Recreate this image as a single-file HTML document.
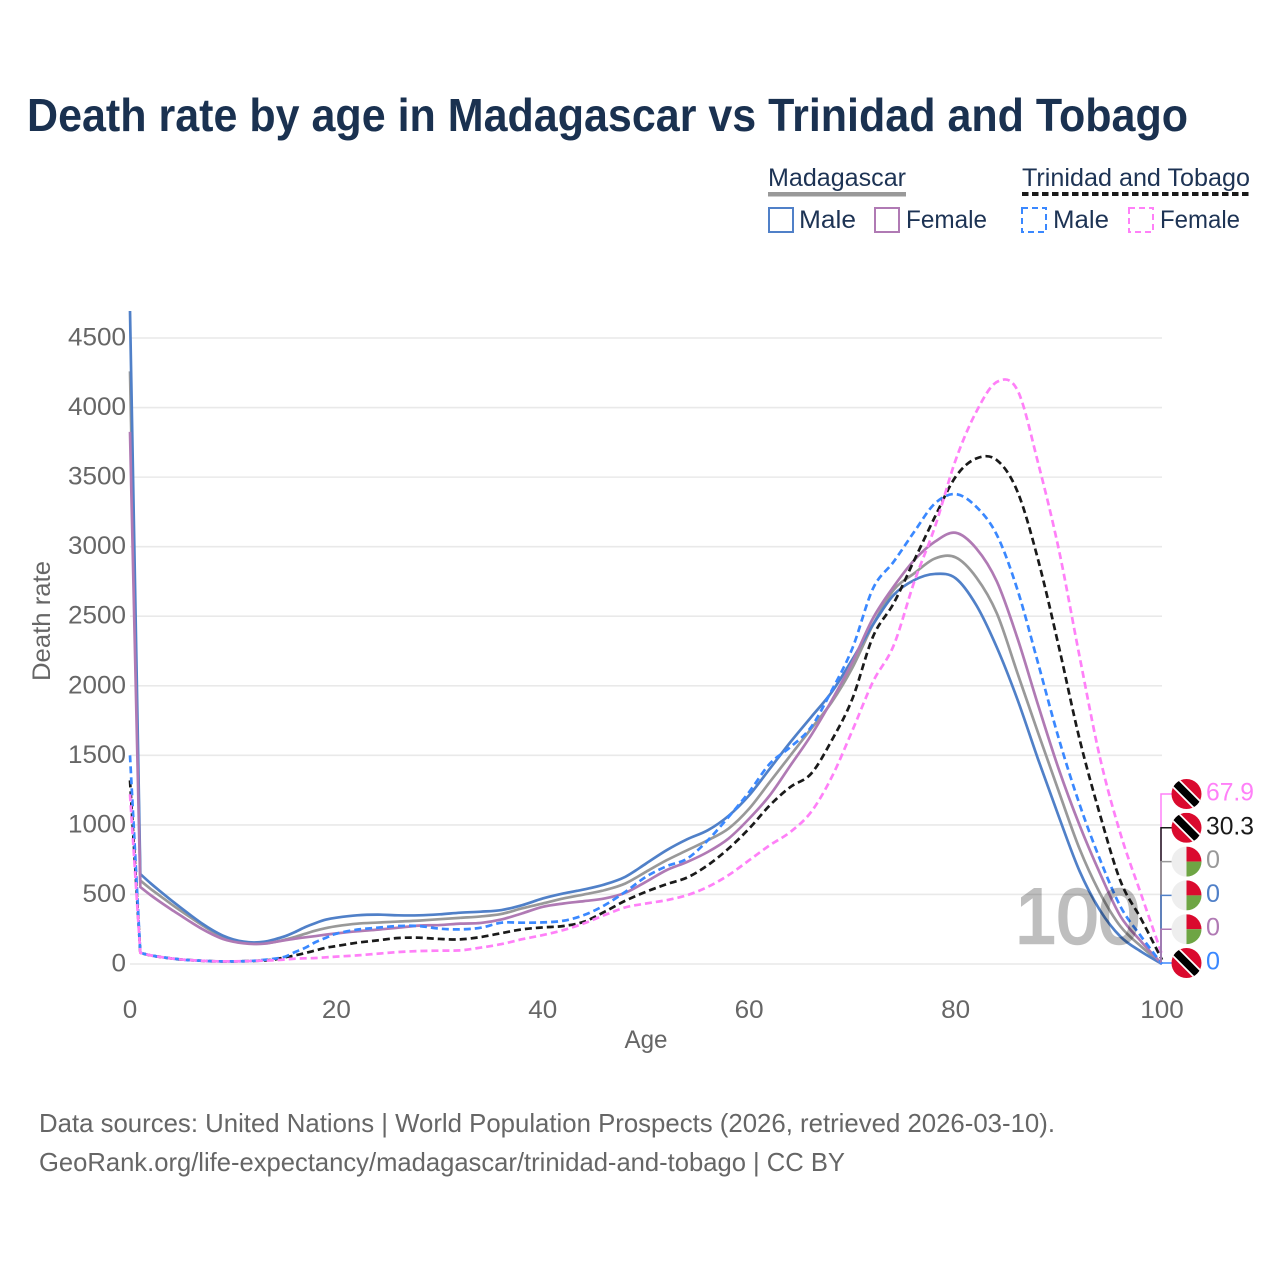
<!DOCTYPE html>
<html lang="en">
<head>
<meta charset="utf-8">
<title>Death rate by age in Madagascar vs Trinidad and Tobago</title>
<style>
html,body{margin:0;padding:0;background:#fff;}
svg{display:block;font-family:"Liberation Sans",sans-serif;}
</style>
</head>
<body>
<svg id="chart" xmlns="http://www.w3.org/2000/svg" width="1280" height="1280" viewBox="0 0 1280 1280">
  <defs>
    <clipPath id="flag-clip"><circle cx="0" cy="0" r="15"/></clipPath>
  </defs>
  <rect x="0" y="0" width="1280" height="1280" fill="#fff"/>
  <text x="27" y="131" font-size="46" font-weight="700" fill="#1a3150" textLength="1161" lengthAdjust="spacingAndGlyphs">Death rate by age in Madagascar vs Trinidad and Tobago</text>

  <g font-size="25" fill="#1d3354">
    <text x="768" y="186" textLength="138" lengthAdjust="spacingAndGlyphs">Madagascar</text>
    <rect x="768" y="192" width="138" height="4.5" fill="#999"/>
    <text x="1022" y="186" textLength="228" lengthAdjust="spacingAndGlyphs">Trinidad and Tobago</text>
    <line x1="1022" y1="194" x2="1250" y2="194" stroke="#1a1a1a" stroke-width="4" stroke-dasharray="6.5 3.5"/>
    <rect x="769" y="208" width="24" height="24" fill="none" stroke="#5080c8" stroke-width="2"/>
    <text x="799" y="228" textLength="57" lengthAdjust="spacingAndGlyphs">Male</text>
    <rect x="875" y="208" width="24" height="24" fill="none" stroke="#b07ab4" stroke-width="2"/>
    <text x="906" y="228" textLength="81" lengthAdjust="spacingAndGlyphs">Female</text>
    <rect x="1022" y="208" width="24" height="24" fill="none" stroke="#3a88ff" stroke-width="2" stroke-dasharray="6 4"/>
    <text x="1053" y="228" textLength="56" lengthAdjust="spacingAndGlyphs">Male</text>
    <rect x="1129" y="208" width="24" height="24" fill="none" stroke="#ff80f8" stroke-width="2" stroke-dasharray="6 4"/>
    <text x="1160" y="228" textLength="80" lengthAdjust="spacingAndGlyphs">Female</text>
  </g>

  <g id="grid"></g>
  <g id="yticks" font-size="25" fill="#666"></g>
  <g id="xticks" font-size="25" fill="#666"></g>
  <text x="646" y="1048" font-size="25" fill="#666" text-anchor="middle" textLength="43" lengthAdjust="spacingAndGlyphs">Age</text>
  <text x="0" y="0" transform="translate(50,681) rotate(-90)" font-size="25" fill="#666" textLength="120" lengthAdjust="spacingAndGlyphs">Death rate</text>

  <g id="series"></g>
  <g id="connectors"></g>
  <g id="endlabels"></g>

  <text id="year-label" x="1015" y="943" font-size="78" font-weight="400" fill="#000" stroke="#000" stroke-width="2.5" opacity="0.25" textLength="125" lengthAdjust="spacingAndGlyphs">100</text>

  <text x="39" y="1132" font-size="26" fill="#666" textLength="1016" lengthAdjust="spacingAndGlyphs">Data sources: United Nations | World Population Prospects (2026, retrieved 2026-03-10).</text>
  <text x="39" y="1171" font-size="26" fill="#666" textLength="806" lengthAdjust="spacingAndGlyphs">GeoRank.org/life-expectancy/madagascar/trinidad-and-tobago | CC BY</text>
</svg>
<script>
const ages = [0,1,2,3,4,5,6,7,8,9,10,11,12,13,14,15,16,17,18,19,20,22,24,26,28,30,32,34,36,38,40,42,44,46,48,50,52,54,56,58,60,62,64,66,68,70,72,74,76,78,80,82,84,86,88,90,92,94,96,98,100];
const madagascarBoth = [4260,600,540,485,430,378,328,279,233,195,168,152,146,148,158,175,195,218,240,258,272,290,298,305,312,322,332,342,360,400,435,471,500,531,579,663,746,818,890,974,1117,1309,1500,1691,1883,2130,2440,2689,2809,2915,2923,2780,2520,2090,1660,1240,830,508,268,125,0];
const madagascarMale = [4694,647,580,518,458,400,344,290,243,204,177,161,155,160,177,199,230,266,295,319,333,350,355,350,350,357,369,376,388,423,471,507,536,572,627,722,818,897,962,1065,1213,1404,1596,1775,1955,2190,2440,2653,2760,2804,2773,2580,2275,1900,1470,1060,670,385,195,88,0];
const madagascarFemale = [3825,553,495,442,392,344,296,251,212,180,160,149,144,146,158,170,182,192,201,211,220,235,247,261,276,280,290,295,320,364,411,435,452,471,512,591,675,734,806,902,1045,1213,1428,1644,1895,2170,2486,2713,2904,3036,3100,2988,2749,2340,1860,1400,1000,650,340,160,0];
const trinidadBoth = [1320,80,62,50,40,32,27,23,20,19,19,20,22,26,32,48,62,79,98,117,129,153,170,187,189,180,177,194,222,249,263,273,304,376,455,519,574,622,711,830,974,1141,1273,1368,1608,1907,2354,2593,2904,3215,3502,3634,3622,3395,2904,2282,1620,1071,592,321,30.3];
const trinidadMale = [1500,80,62,50,40,32,27,23,20,19,19,20,23,30,38,52,86,117,158,189,218,247,261,273,273,254,249,261,297,297,299,311,352,423,519,627,703,758,890,1057,1237,1440,1560,1703,1967,2270,2700,2892,3108,3311,3378,3287,3084,2689,2160,1620,1150,750,410,196,0];
const trinidadFemale = [1220,80,62,50,40,32,27,23,20,19,19,20,22,24,27,32,38,41,43,48,53,62,74,86,93,96,98,118,143,178,208,244,292,352,407,435,459,495,555,639,746,854,950,1093,1344,1679,2030,2290,2749,3143,3622,3969,4184,4124,3600,2980,2215,1480,930,496,67.9];
const yTicks = [0,500,1000,1500,2000,2500,3000,3500,4000,4500];
const xTicks = [0,20,40,60,80,100];
const endValues = ["67.9","30.3","0","0","0","0"];

const NS = 'http://www.w3.org/2000/svg';
function xScale(a){ return 130 + a * 10.32; }
function yScale(v){ return 964 - v * 0.13911; }
function make(tag, attrs, parent){
  const el = document.createElementNS(NS, tag);
  for (const k in attrs) el.setAttribute(k, attrs[k]);
  parent.appendChild(el);
  return el;
}
function buildPath(values){
  const pts = ages.map((a,i)=>[xScale(a), yScale(values[i])]);
  let d = 'M' + pts[0][0].toFixed(2) + ' ' + pts[0][1].toFixed(2);
  d += 'L' + pts[1][0].toFixed(2) + ' ' + pts[1][1].toFixed(2);
  for (let i = 1; i < pts.length - 1; i++){
    const p0 = pts[Math.max(i-1,1)], p1 = pts[i], p2 = pts[i+1], p3 = pts[Math.min(i+2,pts.length-1)];
    const c1x = p1[0] + (p2[0]-p0[0])/6, c1y = p1[1] + (p2[1]-p0[1])/6;
    const c2x = p2[0] - (p3[0]-p1[0])/6, c2y = p2[1] - (p3[1]-p1[1])/6;
    d += 'C' + c1x.toFixed(2) + ' ' + c1y.toFixed(2) + ' ' + c2x.toFixed(2) + ' ' + c2y.toFixed(2) + ' ' + p2[0].toFixed(2) + ' ' + p2[1].toFixed(2);
  }
  return d;
}

const gridG = document.getElementById('grid');
const yG = document.getElementById('yticks');
yTicks.forEach(function(t){
  const line = make('line', {x1:130, x2:1162, y1:yScale(t), y2:yScale(t), stroke:'#e9e9e9', 'stroke-width':1.6}, gridG);
  
  
  const s = String(t);
  const w = s.length * 14.5;
  const txt = make('text', {x:126 - w, y:yScale(t) + 7.5, textLength:w, lengthAdjust:'spacingAndGlyphs'}, yG);
  txt.textContent = s;
  
  
});
const xG = document.getElementById('xticks');
xTicks.forEach(function(t){
  const s = String(t);
  const w = s.length * 14.5;
  const txt = make('text', {x:xScale(t) - w/2, y:1018, textLength:w, lengthAdjust:'spacingAndGlyphs'}, xG);
  txt.textContent = s;
  
  
});

const seriesG = document.getElementById('series');
const p1 = make('path', {d:buildPath(madagascarBoth), fill:'none', stroke:'#999999', 'stroke-width':2.7, 'stroke-linejoin':'round'}, seriesG);


const p2 = make('path', {d:buildPath(madagascarMale), fill:'none', stroke:'#5080c8', 'stroke-width':2.7, 'stroke-linejoin':'round'}, seriesG);


const p3 = make('path', {d:buildPath(madagascarFemale), fill:'none', stroke:'#b07ab4', 'stroke-width':2.7, 'stroke-linejoin':'round'}, seriesG);


const p4 = make('path', {d:buildPath(trinidadBoth), fill:'none', stroke:'#1a1a1a', 'stroke-width':2.7, 'stroke-dasharray':'7 4'}, seriesG);


const p5 = make('path', {d:buildPath(trinidadMale), fill:'none', stroke:'#3a88ff', 'stroke-width':2.7, 'stroke-dasharray':'7 4'}, seriesG);


const p6 = make('path', {d:buildPath(trinidadFemale), fill:'none', stroke:'#ff80f8', 'stroke-width':2.7, 'stroke-dasharray':'7 4'}, seriesG);



const endColors = ['#ff80f8','#1a1a1a','#999999','#5080c8','#b07ab4','#3a88ff'];
const endFlags = ['tt','tt','mg','mg','mg','tt'];
const conn = document.getElementById('connectors');
const endG = document.getElementById('endlabels');
endValues.forEach(function(val, i){
  const cy = 794 + i * 33.8;
  const c = make('path', {d:'M1161 963V' + cy + 'H1172', fill:'none', stroke:endColors[i], 'stroke-width':1.5}, conn);
  
  
  const g = make('g', {transform:'translate(1186.5,' + cy + ')'}, endG);
  
  
  const inner = make('g', {'clip-path':'url(#flag-clip)'}, g);
  if (endFlags[i] === 'tt'){
    make('rect', {x:-15, y:-15, width:30, height:30, fill:'#da0a2e'}, inner);
    make('line', {x1:-15, y1:-15, x2:15, y2:15, stroke:'#fff', 'stroke-width':11}, inner);
    make('line', {x1:-15, y1:-15, x2:15, y2:15, stroke:'#000', 'stroke-width':7.5}, inner);
  } else {
    make('rect', {x:-15, y:-15, width:15, height:30, fill:'#eeeeee'}, inner);
    make('rect', {x:0, y:-15, width:15, height:15, fill:'#da0a2e'}, inner);
    make('rect', {x:0, y:0, width:15, height:15, fill:'#6ea544'}, inner);
  }
  const w = val.length === 1 ? 14 : 48;
  const t = make('text', {x:1206, y:cy + 6.5, 'font-size':25, fill:endColors[i], textLength:w, lengthAdjust:'spacingAndGlyphs'}, endG);
  t.textContent = val;
  
  
});
</script>
</body>
</html>
